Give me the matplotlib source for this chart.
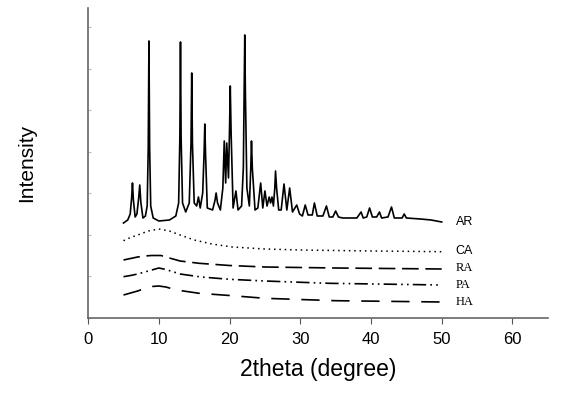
import matplotlib.pyplot as plt
import numpy as np

# AR (crystalline) pattern, vertices: 2theta, intensity
ar_x = [5.0, 5.6, 5.95, 6.15, 6.27, 6.4, 6.65, 6.9, 7.15, 7.3, 7.45, 7.75,
        8.1, 8.35, 8.5, 8.6, 8.7, 8.85, 9.2, 10.0, 11.5, 12.4, 12.8, 12.97,
        13.06, 13.15, 13.35, 13.8, 14.3, 14.55, 14.65, 14.75, 15.0, 15.35, 15.6,
        15.85, 16.2, 16.4, 16.5, 16.6, 16.85, 17.6, 17.95, 18.1, 18.3, 18.7,
        19.05, 19.25, 19.45, 19.6, 19.85, 20.0, 20.1, 20.22, 20.5, 20.9, 21.2,
        21.7, 21.95, 22.07, 22.15, 22.23, 22.45, 22.8, 23.0, 23.1, 23.22, 23.6,
        24.0, 24.4, 24.7, 25.0, 25.3, 25.6, 25.8, 26.0, 26.2, 26.4, 26.5, 26.65,
        26.95, 27.3, 27.7, 28.1, 28.5, 28.9, 29.5, 29.9, 30.3, 30.7, 31.1, 31.7,
        32.0, 32.4, 33.2, 33.7, 34.1, 34.6, 35.0, 35.4, 36.0, 38.0, 38.6, 38.9,
        39.4, 39.8, 40.2, 40.8, 41.2, 41.5, 42.4, 42.9, 43.3, 44.4, 44.7, 45.0,
        47.0, 48.5, 50.0]
ar_y = [95, 98, 104, 120, 135, 118, 101, 104, 120, 133, 116, 100,
        102, 112, 170, 277, 170, 112, 100, 97, 98, 102, 115, 180,
        276, 180, 115, 106, 115, 175, 245, 175, 115, 112, 121,
        110, 125, 165, 194, 165, 110, 108, 118, 125, 115, 108,
        130, 177, 135, 175, 140, 190, 232, 185, 110, 127, 108,
        112, 150, 230, 283, 230, 130, 112, 150, 177, 150, 108,
        110, 135, 110, 127, 112, 121, 115, 121, 112, 130, 147, 130,
        108, 108, 134, 108, 130, 106, 113, 104, 102, 113, 103, 103,
        115, 102, 102, 112, 101, 101, 107, 101, 100, 100, 106, 100,
        101, 110, 101, 101, 106, 100, 101, 111, 100, 100, 104, 100,
        99, 98, 96]

# amorphous samples
ca_x = [5, 6, 7, 8.5, 10, 11.5, 13, 15, 17.5, 20.4, 25, 30, 40, 50]
ca_y = [77.3, 80.5, 83, 87, 89, 87, 83, 78, 74, 71, 69, 68, 67, 66.3]
ra_x = [5, 6, 7, 8, 9, 10.3, 11.5, 13, 15.7, 20, 25, 35, 50]
ra_y = [58, 59.5, 61, 62, 62.5, 62.5, 60, 57, 54.7, 52.5, 51, 50, 49]
pa_x = [5, 6, 7, 8, 9, 10, 11, 13, 16, 20, 25, 34, 50]
pa_y = [41.3, 42.5, 44, 46, 48, 50, 48.5, 44, 41, 38.7, 37, 34.7, 33]
ha_x = [5, 6, 7, 8, 9, 10, 11, 12.5, 15.7, 20, 25, 35, 50]
ha_y = [23, 25, 27, 29.5, 31.5, 32, 31, 28, 24.7, 22.5, 19.7, 17.3, 16]

labels = ['AR', 'CA', 'RA', 'PA', 'HA']
label_y = [96, 67, 50, 33, 16]

fig = plt.figure(figsize=(5.76, 3.99), dpi=100)
ax = fig.add_axes([0.153, 0.203, 0.798, 0.777])

ax.plot(ar_x, ar_y, color='black', lw=1.2)
ax.plot(ca_x, ca_y, color='black', lw=1.1, dashes=(1, 2.5))
ax.plot(ra_x, ra_y, color='black', lw=1.2, dashes=(10, 4))
ax.plot(pa_x, pa_y, color='black', lw=1.2, dashes=(8, 2.5, 1, 2.5, 1, 2.5))
ax.plot(ha_x, ha_y, color='black', lw=1.2, dashes=(11, 7))

for i, lab in enumerate(labels):
    fam = 'Liberation Sans' if lab in ('AR', 'CA') else 'Liberation Serif'
    ax.text(52, label_y[i], lab, fontsize=9, family=fam, va='center', ha='left')

ax.set_xlim(0, 65)
ax.set_ylim(0, 310)
ax.set_xticks([0, 10, 20, 30, 40, 50, 60])
ax.set_yticks(np.arange(0, 310, 41.5))
ax.set_yticklabels([])
ax.tick_params(axis='x', direction='out', length=4, color='#555555',
               labelsize=12, pad=6)
ax.tick_params(axis='y', direction='in', length=2, color='#bbbbbb')
for lab in ax.get_xticklabels():
    lab.set_family('Liberation Sans')

for s in ['top', 'right']:
    ax.spines[s].set_visible(False)
for s in ['left', 'bottom']:
    ax.spines[s].set_color('#666666')
    ax.spines[s].set_linewidth(1.2)

ax.set_xlabel('2theta (degree)', fontsize=16.5, family='Liberation Sans', labelpad=8)
ax.set_ylabel('Intensity', fontsize=15, family='Liberation Sans', labelpad=34)

fig.savefig('out.png', dpi=100)
